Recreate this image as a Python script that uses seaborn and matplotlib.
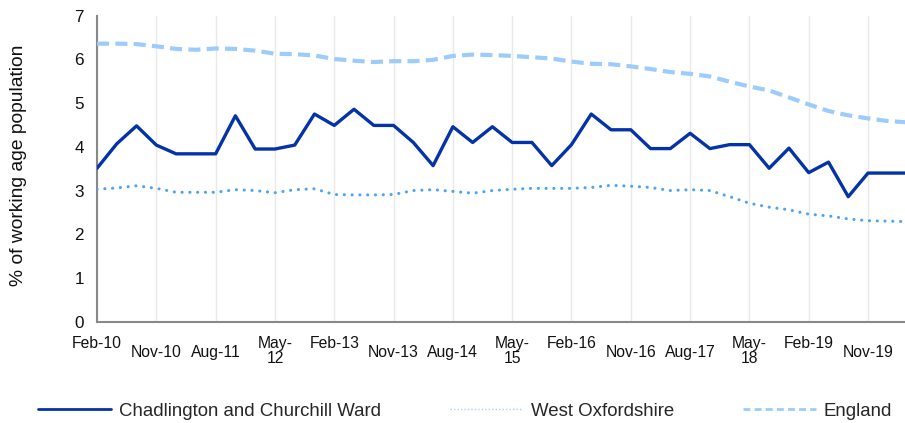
import numpy as np
import pandas as pd
import matplotlib
matplotlib.use("Agg")
import matplotlib.pyplot as plt
from matplotlib.lines import Line2D
import seaborn as sns

sns.set_theme(style='white')
plt.rcParams['font.family'] = ['Liberation Sans', 'DejaVu Sans']

# quarterly claimant rates, Feb-10 .. May-20
quarters = list(range(42))
chadlington = [3.51, 4.07, 4.48, 4.04, 3.84, 3.84, 3.84, 4.71, 3.95, 3.95,
               4.04, 4.75, 4.49, 4.86, 4.49, 4.49, 4.10, 3.57, 4.46, 4.10,
               4.46, 4.10, 4.10, 3.57, 4.05, 4.75, 4.39, 4.39, 3.96, 3.96,
               4.31, 3.96, 4.05, 4.05, 3.51, 3.97, 3.41, 3.65, 2.86, 3.40,
               3.40, 3.40]
west_oxfordshire = [3.03, 3.06, 3.11, 3.05, 2.96, 2.96, 2.96, 3.02, 3.00, 2.95,
                    3.02, 3.04, 2.91, 2.90, 2.90, 2.91, 3.00, 3.02, 2.98, 2.94,
                    3.00, 3.03, 3.05, 3.05, 3.05, 3.07, 3.12, 3.10, 3.07, 3.00,
                    3.02, 3.00, 2.86, 2.71, 2.62, 2.56, 2.46, 2.42, 2.35, 2.31,
                    2.30, 2.29]
england = [6.36, 6.36, 6.35, 6.30, 6.24, 6.22, 6.25, 6.24, 6.20, 6.13,
           6.12, 6.09, 6.01, 5.97, 5.94, 5.96, 5.96, 5.99, 6.08, 6.11,
           6.10, 6.08, 6.05, 6.02, 5.95, 5.90, 5.89, 5.84, 5.78, 5.71,
           5.67, 5.61, 5.49, 5.38, 5.29, 5.13, 4.97, 4.82, 4.72, 4.65,
           4.59, 4.56]

tick_pos = list(range(0, 42, 3))
tick_labels = ['Feb-10', 'Nov-10', 'Aug-11', 'May-\n12', 'Feb-13', 'Nov-13', 'Aug-14',
               'May-\n15', 'Feb-16', 'Nov-16', 'Aug-17', 'May-\n18', 'Feb-19', 'Nov-19']
series_names = ['Chadlington and Churchill Ward', 'West Oxfordshire', 'England']

df = pd.DataFrame({'quarter': quarters, 'chad': chadlington,
                   'wox': west_oxfordshire, 'eng': england})

c_chad, c_wox, c_eng = '#0433a9', '#4da3f5', '#9dcbfb'

fig = plt.figure(figsize=(9.05, 4.23), dpi=100)
ax = fig.add_axes([0.1072, 0.2395, 0.8928, 0.7234])

sns.lineplot(data=df, x='quarter', y='eng', ax=ax, color=c_eng, lw=3, zorder=3)
ax.lines[-1].set_dashes([2.9, 1.5])
sns.lineplot(data=df, x='quarter', y='wox', ax=ax, color=c_wox, lw=2.2, zorder=3)
ax.lines[-1].set_dashes([0.05, 2.5])
ax.lines[-1].set_dash_capstyle('round')
sns.lineplot(data=df, x='quarter', y='chad', ax=ax, color=c_chad, lw=2.4, zorder=4)

ax.set_xlim(0, 40.87)
ax.set_ylim(0, 7)
ax.set_yticks(range(0, 8))
ax.set_xticks(tick_pos)
ax.set_xticklabels(tick_labels, fontsize=11.3, linespacing=1.05)
ax.tick_params(axis='y', labelsize=12.3, length=4.3, width=1, pad=5)
ax.tick_params(axis='x', length=3, width=1, pad=7)
ax.tick_params(axis='both', color='#888888', labelcolor='#111111')

# Nov / Aug labels sit a bit lower
for i, t in enumerate(ax.xaxis.get_major_ticks()):
    if tick_labels[i][:3] in ('Nov', 'Aug'):
        t.set_pad(14)

ax.grid(axis='x', color='#e9e9e9', lw=1)
ax.grid(axis='y', visible=False)
for s in ['top', 'right']:
    ax.spines[s].set_visible(False)
for s in ['left', 'bottom']:
    ax.spines[s].set_color('#888888')
    ax.spines[s].set_linewidth(1.5)

ax.set_xlabel('')
ax.set_ylabel('% of working age population', fontsize=13.9, color='#111111', va='center')
ax.yaxis.set_label_coords(-0.0975, 0.51)

# legend handles are drawn thinner than the plotted lines
handles = [Line2D([], [], color=c_chad, lw=2),
           Line2D([], [], color=c_wox, lw=1, ls=(0, (1, 1.5)), alpha=0.5),
           Line2D([], [], color=c_eng, lw=2, ls=(0, (2.5, 1.5)))]
fig.legend(handles, series_names, loc='center', bbox_to_anchor=(0.514, 0.028),
           ncol=3, frameon=False, fontsize=13.4, handlelength=3.9,
           handletextpad=0.45, columnspacing=3.7)

plt.savefig('out.png', dpi=100)
